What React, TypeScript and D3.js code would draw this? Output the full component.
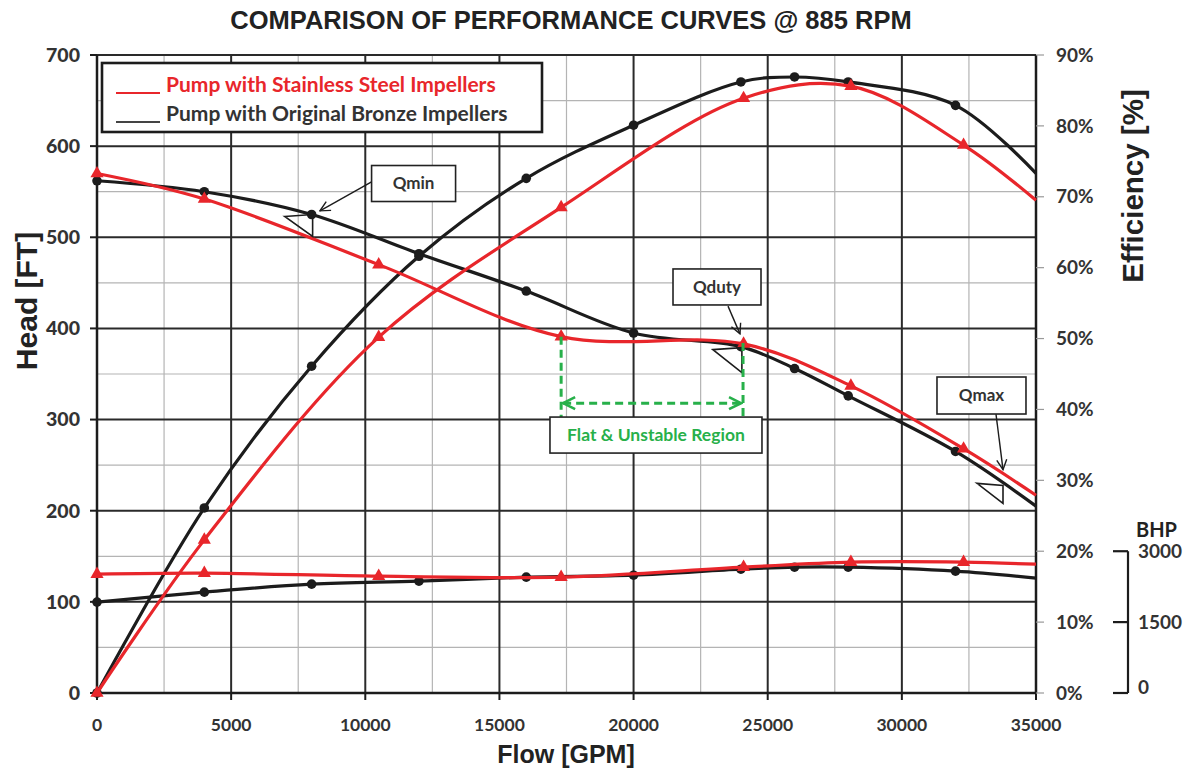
import React, { useEffect, useRef } from 'react';
import * as d3 from 'd3';

// original bronze impellers (black, dots)
const bronzeFlow = [0, 4000, 8000, 12000, 16000, 20000, 24000, 26000, 28000, 32000, 35000];
const bronzeHead = [562, 550, 525, 482, 441, 395, 380, 356, 326, 265, 205];
const bronzeEff = [0, 26.1, 46.1, 61.6, 72.6, 80.1, 86.2, 86.9, 86.2, 82.9, 73.3];
const bronzeBhp = [1923, 2134, 2303, 2366, 2451, 2493, 2620, 2662, 2662, 2578, 2430];

// stainless steel impellers (red, triangles)
const steelFlow = [0, 4000, 10500, 17300, 24100, 28100, 32300, 35000];
const steelHead = [570, 542, 470, 391, 383, 337, 268, 217];
const steelEff = [0, 21.6, 50.2, 68.5, 83.9, 85.6, 77.3, 69.5];
const steelBhp = [2514, 2535, 2472, 2451, 2662, 2768, 2768, 2725];

const flowTicks = [0, 5000, 10000, 15000, 20000, 25000, 30000, 35000];
const headTicks = [0, 100, 200, 300, 400, 500, 600, 700];
const effTicks = [0, 10, 20, 30, 40, 50, 60, 70, 80, 90];
const bhpTicks = [0, 1500, 3000];

const legendLabels = ['Pump with Stainless Steel Impellers', 'Pump with Original Bronze Impellers'];

const RED = '#e8262b';
const BLACK = '#1c1c1c';
const GREEN = '#27b04a';

const App = () => {
  const ref = useRef<SVGSVGElement>(null);

  useEffect(() => {
    const svg = d3.select(ref.current);
    svg.selectAll('*').remove();

    const left = 97, right = 1036, top = 55, bottom = 693;
    const tickFont = 'Lato, "DejaVu Sans", sans-serif';
    const titleFont = '"Liberation Sans", Arial, sans-serif';

    const x = d3.scaleLinear().domain([0, 35000]).range([left, right]);
    const yHead = d3.scaleLinear().domain([0, 700]).range([bottom, top]);
    const yEff = d3.scaleLinear().domain([0, 90]).range([bottom, top]);
    const yBhp = d3.scaleLinear().domain([0, 3000]).range([bottom, yEff(20)]);

    // grid
    const grid = svg.append('g');
    d3.range(2500, 35000, 5000).forEach(v => {
      grid.append('line').attr('x1', x(v)).attr('x2', x(v)).attr('y1', top).attr('y2', bottom)
        .attr('stroke', '#b4b4b4').attr('stroke-width', 1.2);
    });
    d3.range(50, 700, 100).forEach(v => {
      grid.append('line').attr('x1', left).attr('x2', right).attr('y1', yHead(v)).attr('y2', yHead(v))
        .attr('stroke', '#b4b4b4').attr('stroke-width', 1.2);
    });
    flowTicks.forEach(v => {
      grid.append('line').attr('x1', x(v)).attr('x2', x(v)).attr('y1', top).attr('y2', bottom)
        .attr('stroke', '#2a2a2a').attr('stroke-width', 2);
    });
    headTicks.forEach(v => {
      grid.append('line').attr('x1', left).attr('x2', right).attr('y1', yHead(v)).attr('y2', yHead(v))
        .attr('stroke', '#2a2a2a').attr('stroke-width', 2);
    });

    // axes
    const axes = svg.append('g');
    axes.append('line').attr('x1', left).attr('x2', left).attr('y1', top).attr('y2', bottom)
      .attr('stroke', BLACK).attr('stroke-width', 2.5);
    axes.append('line').attr('x1', right).attr('x2', right).attr('y1', top).attr('y2', bottom)
      .attr('stroke', BLACK).attr('stroke-width', 2.5);
    axes.append('line').attr('x1', left).attr('x2', right).attr('y1', bottom).attr('y2', bottom)
      .attr('stroke', BLACK).attr('stroke-width', 2.5);

    headTicks.forEach(v => {
      axes.append('line').attr('x1', left - 7).attr('x2', left).attr('y1', yHead(v)).attr('y2', yHead(v))
        .attr('stroke', BLACK).attr('stroke-width', 2);
      axes.append('text').attr('x', 80).attr('y', yHead(v)).attr('dy', '0.35em')
        .attr('text-anchor', 'end').attr('font-family', tickFont).attr('font-weight', 900)
        .attr('font-size', 19.5).attr('fill', '#333').text(v);
    });
    flowTicks.forEach(v => {
      axes.append('line').attr('x1', x(v)).attr('x2', x(v)).attr('y1', bottom).attr('y2', bottom + 7)
        .attr('stroke', BLACK).attr('stroke-width', 2);
      axes.append('text').attr('x', x(v)).attr('y', 731)
        .attr('text-anchor', 'middle').attr('font-family', tickFont).attr('font-weight', 700)
        .attr('font-size', 17.5).attr('fill', '#333').text(v);
    });
    effTicks.forEach(v => {
      axes.append('line').attr('x1', right).attr('x2', right + 8).attr('y1', yEff(v)).attr('y2', yEff(v))
        .attr('stroke', '#999').attr('stroke-width', 1.2);
      axes.append('text').attr('x', 1056).attr('y', yEff(v)).attr('dy', '0.35em')
        .attr('font-family', tickFont).attr('font-weight', 700)
        .attr('font-size', 19).attr('fill', '#333').text(`${v}%`);
    });

    // BHP bracket
    const bx = 1128;
    axes.append('line').attr('x1', bx).attr('x2', bx).attr('y1', yBhp(3000)).attr('y2', yBhp(0))
      .attr('stroke', BLACK).attr('stroke-width', 2.2);
    bhpTicks.forEach(v => {
      axes.append('line').attr('x1', bx - 15).attr('x2', bx).attr('y1', yBhp(v)).attr('y2', yBhp(v))
        .attr('stroke', BLACK).attr('stroke-width', 2.2);
      axes.append('text').attr('x', 1138).attr('y', yBhp(v) - (v === 0 ? 6 : 0)).attr('dy', '0.35em')
        .attr('font-family', tickFont).attr('font-weight', 700)
        .attr('font-size', 19).attr('fill', '#333').text(v);
    });
    axes.append('text').attr('x', 1136).attr('y', 537)
      .attr('font-family', tickFont).attr('font-weight', 700)
      .attr('font-size', 20).attr('fill', '#222').text('BHP');

    // titles
    svg.append('text').attr('x', 571).attr('y', 29).attr('text-anchor', 'middle')
      .attr('font-family', titleFont).attr('font-weight', 700).attr('font-size', 25.5)
      .attr('fill', '#222').text('COMPARISON OF PERFORMANCE CURVES @ 885 RPM');
    svg.append('text').attr('x', 566).attr('y', 763).attr('text-anchor', 'middle')
      .attr('font-family', titleFont).attr('font-weight', 700).attr('font-size', 25)
      .attr('fill', '#222').text('Flow [GPM]');
    svg.append('text').attr('transform', 'translate(37,301) rotate(-90)').attr('text-anchor', 'middle')
      .attr('font-family', titleFont).attr('font-weight', 700).attr('font-size', 30)
      .attr('fill', '#222').text('Head [FT]');
    svg.append('text').attr('transform', 'translate(1143,186) rotate(-90)').attr('text-anchor', 'middle')
      .attr('font-family', titleFont).attr('font-weight', 700).attr('font-size', 29.5)
      .attr('fill', '#222').text('Efficiency [%]');

    // curves
    const curves = svg.append('g');
    const drawSeries = (flow: number[], vals: number[], scale: d3.ScaleLinear<number, number>, color: string, kind: string) => {
      const pts = flow.map((f, i) => [x(f), scale(vals[i])] as [number, number]);
      const line = d3.line().curve(d3.curveCatmullRom.alpha(0.5));
      curves.append('path').attr('d', line(pts)).attr('fill', 'none')
        .attr('stroke', color).attr('stroke-width', 3.2);
      pts.slice(0, -1).forEach(p => {
        if (kind === 'dot') {
          curves.append('circle').attr('cx', p[0]).attr('cy', p[1]).attr('r', 4.8).attr('fill', color);
        } else {
          curves.append('path').attr('d', d3.symbol(d3.symbolTriangle, 75)())
            .attr('transform', `translate(${p[0]},${p[1]})`).attr('fill', color);
        }
      });
    };
    drawSeries(bronzeFlow, bronzeHead, yHead, BLACK, 'dot');
    drawSeries(bronzeFlow, bronzeEff, yEff, BLACK, 'dot');
    drawSeries(bronzeFlow, bronzeBhp, yBhp, BLACK, 'dot');
    drawSeries(steelFlow, steelHead, yHead, RED, 'tri');
    drawSeries(steelFlow, steelEff, yEff, RED, 'tri');
    drawSeries(steelFlow, steelBhp, yBhp, RED, 'tri');

    // callouts
    const defs = svg.append('defs');
    defs.append('marker').attr('id', 'arr').attr('viewBox', '0 0 12 12').attr('refX', 11).attr('refY', 6)
      .attr('markerWidth', 12).attr('markerHeight', 12).attr('markerUnits', 'userSpaceOnUse')
      .attr('orient', 'auto')
      .append('path').attr('d', 'M1,1 L11,6 L1,11').attr('fill', 'none').attr('stroke', BLACK).attr('stroke-width', 1.4);
    defs.append('marker').attr('id', 'garr').attr('viewBox', '0 0 16 16').attr('refX', 14).attr('refY', 8)
      .attr('markerWidth', 16).attr('markerHeight', 16).attr('markerUnits', 'userSpaceOnUse')
      .attr('orient', 'auto-start-reverse')
      .append('path').attr('d', 'M2,2 L14,8 L2,14').attr('fill', 'none').attr('stroke', GREEN).attr('stroke-width', 2.6);

    const callouts = [
      { label: 'Qmin', box: [11800, 559], w: 84, h: 36, from: [10250, 561], to: [8310, 529], at: [8000, 525], tri: [[-27, 2], [1, 0], [1, 22]] },
      { label: 'Qduty', box: [23110, 445.5], w: 88, h: 36, from: [23520, 424.5], to: [23966, 394], at: [24000, 380], tri: [[-28, 3], [1, 1], [1, 26]] },
      { label: 'Qmax', box: [32968, 326.4], w: 89, h: 37, from: [33509, 306], to: [33770, 245], at: [33770, 230], tri: [[-26, 0], [0, 2], [0, 20]] },
    ];
    const ann = svg.append('g');
    callouts.forEach(c => {
      const cx = x(c.box[0]), cy = yHead(c.box[1]);
      ann.append('line').attr('x1', x(c.from[0])).attr('y1', yHead(c.from[1]))
        .attr('x2', x(c.to[0])).attr('y2', yHead(c.to[1]))
        .attr('stroke', BLACK).attr('stroke-width', 1.4).attr('marker-end', 'url(#arr)');
      ann.append('rect').attr('x', cx - c.w / 2).attr('y', cy - c.h / 2).attr('width', c.w).attr('height', c.h)
        .attr('fill', '#fff').attr('stroke', '#222').attr('stroke-width', 1.6);
      ann.append('text').attr('x', cx).attr('y', cy).attr('dy', '0.35em').attr('text-anchor', 'middle')
        .attr('font-family', tickFont).attr('font-weight', 700).attr('font-size', 17)
        .attr('fill', '#333').text(c.label);
      const ax = x(c.at[0]), ay = yHead(c.at[1]);
      ann.append('path')
        .attr('d', 'M' + c.tri.map(p => `${ax + p[0]},${ay + p[1]}`).join('L') + 'Z')
        .attr('fill', 'none').attr('stroke', BLACK).attr('stroke-width', 1.6);
    });

    // flat & unstable region
    const gBox = { flow: 20835, head: 283, w: 212, h: 36 };
    const gTop = yHead(gBox.head) - gBox.h / 2;
    const gx1 = x(17300), gx2 = x(24080);
    ann.append('line').attr('x1', gx1).attr('x2', gx1).attr('y1', yHead(391)).attr('y2', gTop)
      .attr('stroke', GREEN).attr('stroke-width', 3).attr('stroke-dasharray', '8,5');
    ann.append('line').attr('x1', gx2).attr('x2', gx2).attr('y1', yHead(384)).attr('y2', gTop)
      .attr('stroke', GREEN).attr('stroke-width', 3).attr('stroke-dasharray', '8,5');
    ann.append('line').attr('x1', gx1 + 2).attr('x2', gx2 - 2).attr('y1', yHead(318)).attr('y2', yHead(318))
      .attr('stroke', GREEN).attr('stroke-width', 3).attr('stroke-dasharray', '8,5')
      .attr('marker-start', 'url(#garr)').attr('marker-end', 'url(#garr)');
    ann.append('rect').attr('x', x(gBox.flow) - gBox.w / 2).attr('y', gTop).attr('width', gBox.w).attr('height', gBox.h)
      .attr('fill', '#fff').attr('stroke', '#222').attr('stroke-width', 1.6);
    ann.append('text').attr('x', x(gBox.flow)).attr('y', yHead(gBox.head)).attr('dy', '0.35em').attr('text-anchor', 'middle')
      .attr('font-family', tickFont).attr('font-weight', 700).attr('font-size', 17.5)
      .attr('fill', GREEN).text('Flat & Unstable Region');

    // legend
    const lg = svg.append('g');
    lg.append('rect').attr('x', 102).attr('y', 63).attr('width', 440).attr('height', 69)
      .attr('fill', '#fff').attr('stroke', BLACK).attr('stroke-width', 2.6);
    [RED, '#333'].forEach((col, i) => {
      const ly = 93 + i * 29;
      lg.append('line').attr('x1', 116).attr('x2', 160).attr('y1', ly).attr('y2', ly)
        .attr('stroke', col === RED ? RED : '#444').attr('stroke-width', 2);
      lg.append('text').attr('x', 166).attr('y', ly - 1)
        .attr('font-family', tickFont).attr('font-weight', 700).attr('font-size', 21)
        .attr('fill', col).text(legendLabels[i]);
    });
  }, []);

  return (
    <svg ref={ref} width={1190} height={771}
      style={{ position: 'absolute', left: 0, top: 0, background: '#fff' }} />
  );
};

export default App;
